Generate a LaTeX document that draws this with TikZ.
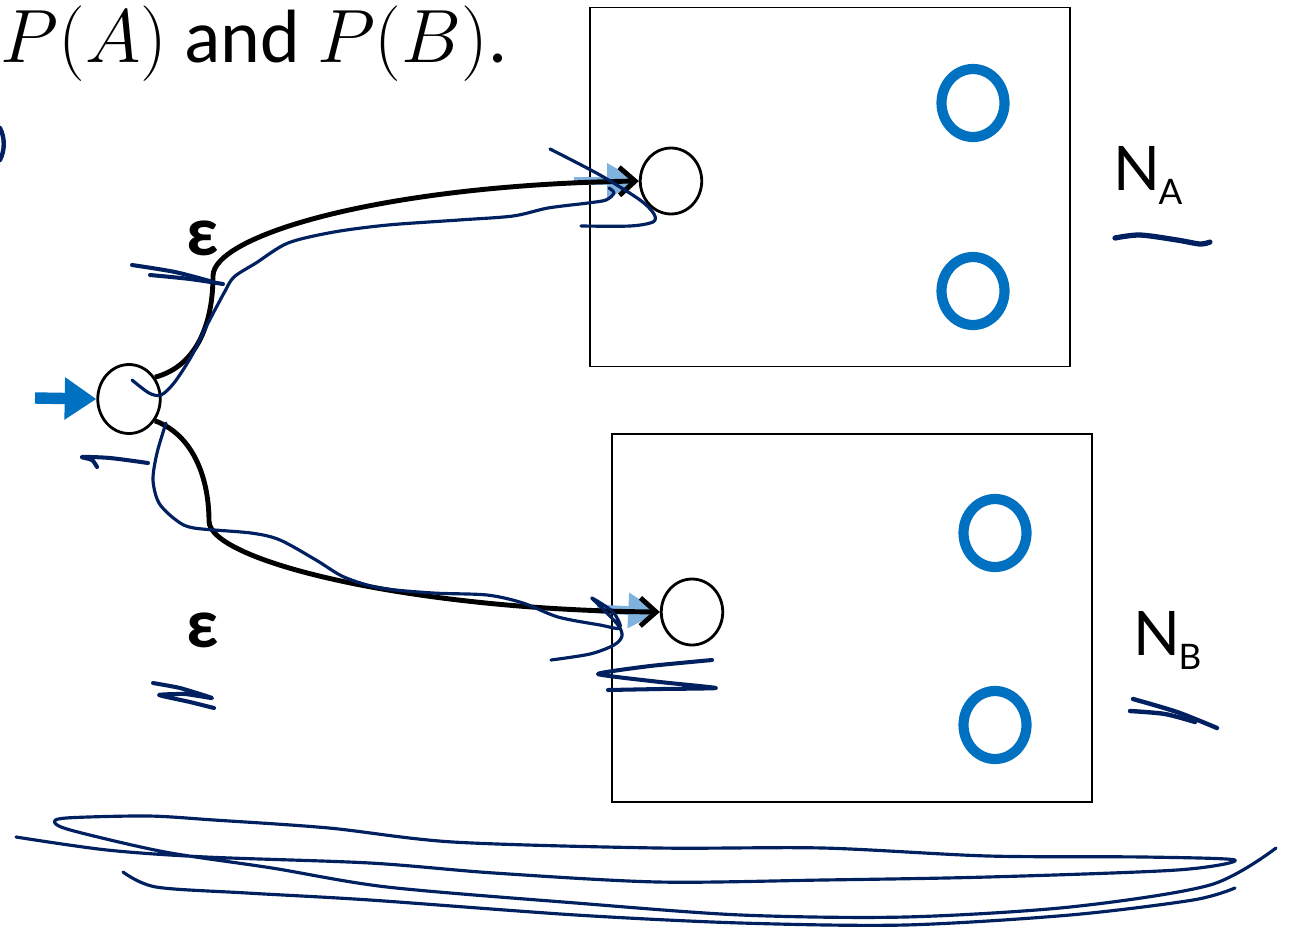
\RequirePackage{fix-cm}
\documentclass[tikz,border=0pt]{standalone}
\usepackage{fontspec}
\setmainfont{Carlito}
\newfontfamily\labelfont{Lato}
\usetikzlibrary{arrows.meta,shapes.geometric,positioning}
\definecolor{startblue}{RGB}{0,112,192}
\definecolor{lightblue}{RGB}{127,178,222}
\definecolor{inkblue}{RGB}{0,32,96}

\begin{document}
\begin{tikzpicture}
[x=0.02cm,y=-0.02cm,
St/.style={draw,ellipse,line width=1.6pt,inner sep=0pt,minimum width=1.23cm,minimum height=1.32cm},
Ring/.style={draw=startblue,ellipse,line width=5.8pt,inner sep=0pt,minimum width=1.26cm,minimum height=1.36cm},
Box/.style={draw,line width=1pt,inner sep=0pt,minimum width=9.6cm,minimum height=7.18cm},
epsedge/.style={line width=2.8pt,-{Straight Barb[length=9pt,width=16pt,line width=2.8pt]}},
inarrow/.style={draw=startblue,line width=6.5pt,-{Triangle[length=18pt,width=23pt]}},
ghost/.style={draw=lightblue,line width=5pt,-{Triangle[length=18pt,width=19pt]}},
ink/.style={draw=inkblue,line width=1.8pt,line cap=round,line join=round},
Eps/.style={font=\fontsize{40}{40}\selectfont\bfseries,inner sep=0pt},
Lab/.style={anchor=base west,inner sep=0pt,font=\labelfont\fontsize{35}{35}\selectfont}]
\useasboundingbox (0,0) rectangle (1291,927);
%%
%%%%%%%%%%%%%%%%%%
% heading
%%%%%%%%%%%%%%%%%%
\node[anchor=base west,inner sep=0pt,font=\fontsize{43}{50}\selectfont] (title) at (0,62) {$P(A)$ and $P(B)$.};
%%
%%%%%%%%%%%%%%%%%%
% N_A
%%%%%%%%%%%%%%%%%%
\node[Box] (boxA) at (830,187) {};
\node[St] (qA) at (671,181) {};
\node[Ring] (a1) at (973,103) {};
\node[Ring] (a2) at (973,291) {};
\node[Lab] (NA) at (1113,190) {N\kern-1pt\raisebox{-8.5pt}{\fontsize{20}{20}\selectfont A}};
%%
%%%%%%%%%%%%%%%%%%
% N_B
%%%%%%%%%%%%%%%%%%
\node[Box,minimum height=7.36cm] (boxB) at (852,618) {};
\node[St] (qB) at (692,612) {};
\node[Ring] (b1) at (995,533) {};
\node[Ring] (b2) at (995,725) {};
\node[Lab] (NB) at (1133,655) {N\kern-1pt\raisebox{-8.5pt}{\fontsize{20}{20}\selectfont B}};
%%
%%%%%%%%%%%%%%%%%%
% start state & eps moves
%%%%%%%%%%%%%%%%%%
\node[St,minimum width=1.25cm,minimum height=1.38cm] (q0) at (129,399) {};
\coordinate (in0) at (35,398);
\draw[inarrow] (in0) -- (q0.west);
%%
\coordinate (gA) at (574,181);
\coordinate (gB) at (597,609);
\draw[ghost] (gA) -- (qA.west);
\draw[ghost] (gB) -- (qB.west);
%%
\coordinate (uA) at (213,276);
\coordinate (uB) at (209,521);
\draw[epsedge] (q0.40) .. controls +(45,-12) and +(0,42) .. (uA)
  .. controls +(0,-40) and +(-260,4) .. (qA.west);
\draw[epsedge] (q0.-40) .. controls +(40,15) and +(0,-40) .. (uB)
  .. controls +(0,40) and +(-250,-2) .. (qB.west);
\node[Eps] (e1) at (203,238) {ε};
\node[Eps] (e2) at (203,630) {ε};
%%
%%%%%%%%%%%%%%%%%%
% ink
%%%%%%%%%%%%%%%%%%
\draw[ink,line width=2.5pt] (0,128) .. controls (5,138) and (5,150) .. (0,160);
%% upper
\draw[ink] plot[smooth] coordinates {(132,380) (149,393) (161,395) (174,383) (191,357) (206,327) (224,293) (234,277) (256,263) (288,243) (334,232) (388,225) (459,220) (513,216) (548,208) (588,203) (606,200) (614,193) (609,188)};
\draw[ink] plot[smooth] coordinates {(550,149) (600,175) (640,200) (654,214) (653,222) (630,226) (581,226)};
\draw[ink,line width=2.3pt] plot[smooth] coordinates {(132,265) (175,272) (213,282)};
\draw[ink,line width=2.3pt] plot[smooth] coordinates {(150,275) (190,279) (223,284)};
\draw[ink,line width=2.3pt] plot[smooth] coordinates {(97,467) (92,460) (82,457) (110,458) (148,463)};
%% lower
\draw[ink] plot[smooth] coordinates {(166,423) (157,453) (153,480) (159,503) (176,520) (194,528) (251,533) (280,540) (316,560) (344,577) (380,588) (433,593) (487,595) (523,603) (558,617) (600,625) (620,628) (613,612) (592,598) (600,606) (618,625) (622,636) (614,645) (590,654) (551,660)};
\draw[ink,line width=2.3pt] plot[smooth,tension=.3] coordinates {(712,660) (650,666) (598,674) (660,682) (716,688) (660,689) (608,690)};
\draw[ink,line width=2.3pt] plot[smooth,tension=.3] coordinates {(153,683) (180,688) (212,698) (185,694) (159,695) (190,702) (214,708)};
%% labels
\draw[ink,line width=3pt] plot[smooth] coordinates {(1115,238) (1140,235) (1177,240) (1200,244) (1210,242)};
\draw[ink,line width=2.5pt] plot[smooth] coordinates {(1133,699) (1177,712) (1217,728)};
\draw[ink,line width=2.5pt] plot[smooth] coordinates {(1130,711) (1165,714) (1195,722)};
%% bottom
\draw[ink] plot[smooth] coordinates {(16,837) (107,850) (206,857) (370,863) (494,873) (658,882) (823,880) (988,877) (1177,870) (1235,860) (1144,857) (988,856) (823,848) (658,848) (453,842) (329,828) (214,820) (148,816) (66,818) (55,823) (74,831) (165,852) (272,868) (387,887) (576,903) (741,915) (905,917) (1070,907) (1210,885) (1276,848)};
\draw[ink] plot[smooth] coordinates {(123,872) (156,887) (247,893) (370,900) (576,915) (741,923) (905,925) (1070,915) (1193,900) (1235,888)};
\end{tikzpicture}
\end{document}
